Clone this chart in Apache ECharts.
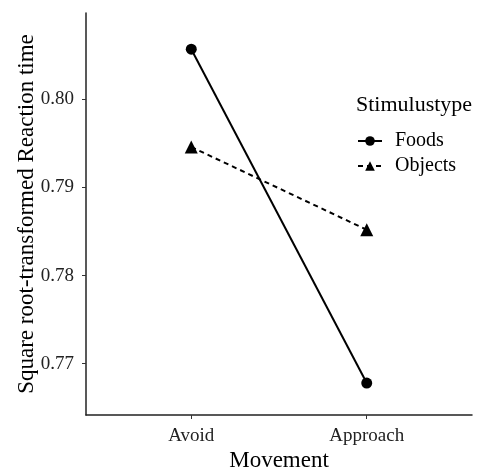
<!DOCTYPE html>
<html><head><meta charset="utf-8">
<script src="https://cdn.jsdelivr.net/npm/echarts@6/dist/echarts.min.js"></script>
<style>html,body{margin:0;padding:0;background:#fff}#c{width:480px;height:468px}</style>
</head><body><div id="c"></div>
<script>
const categories = ["Avoid", "Approach"];
const categoryPos = [1, 2];
const foods = [0.8057, 0.7678];
const objects = [0.7946, 0.7852];
const yTicks = [0.77, 0.78, 0.79, 0.80];
const seriesNames = ["Foods", "Objects"];

const F = "'Liberation Serif', 'DejaVu Serif', serif";
const chart = echarts.init(document.getElementById('c'), null, {renderer: 'canvas'});
chart.setOption({
  animation: false,
  backgroundColor: '#fff',
  grid: {left: 86, top: 13, right: 8, bottom: 53, containLabel: false, outerBoundsMode: 'none'},
  graphic: [{type: 'text', left: 356, top: 94, style: {text: 'Stimulustype', font: '22px ' + F, fill: '#000'}}],
  legend: {
    orient: 'vertical', left: 357, top: 131, padding: 0, itemWidth: 24, itemHeight: 12, itemGap: 5,
    textStyle: {fontFamily: F, fontSize: 20, color: '#000', padding: [0, 0, 0, 8]},
    data: seriesNames
  },
  xAxis: {
    type: 'value', min: 0.4, max: 2.6,
    name: 'Movement', nameLocation: 'middle', nameGap: 34, nameMoveOverlap: false,
    nameTextStyle: {fontFamily: F, fontSize: 23, color: '#000'},
    axisLine: {lineStyle: {color: '#222', width: 1.5}},
    axisTick: {show: true, customValues: categoryPos, length: 4, lineStyle: {color: '#333'}},
    axisLabel: {customValues: categoryPos, margin: 12, fontFamily: F, fontSize: 19, color: '#222',
      formatter: v => categories[categoryPos.indexOf(Math.round(v))] || ''},
    splitLine: {show: false}
  },
  yAxis: {
    type: 'value', min: 0.76417, max: 0.80981,
    name: 'Square root-transformed Reaction time', nameLocation: 'middle', nameGap: 48, nameMoveOverlap: false,
    nameTextStyle: {fontFamily: F, fontSize: 23, color: '#000'},
    axisLine: {show: true, lineStyle: {color: '#222', width: 1.5}},
    axisTick: {show: true, customValues: yTicks, length: 4, lineStyle: {color: '#333'}},
    axisLabel: {customValues: yTicks, margin: 12, fontFamily: F, fontSize: 19, color: '#222',
      formatter: v => v.toFixed(2)},
    splitLine: {show: false}
  },
  series: [
    {name: seriesNames[0], type: 'line', data: categoryPos.map((x, i) => [x, foods[i]]),
     symbol: 'circle', symbolSize: 11, itemStyle: {color: '#000'},
     lineStyle: {color: '#000', width: 2}},
    {name: seriesNames[1], type: 'line', data: categoryPos.map((x, i) => [x, objects[i]]),
     symbol: 'triangle', symbolSize: 13, itemStyle: {color: '#000'},
     lineStyle: {color: '#000', width: 2, type: [5, 4]}}
  ]
});
</script></body></html>
